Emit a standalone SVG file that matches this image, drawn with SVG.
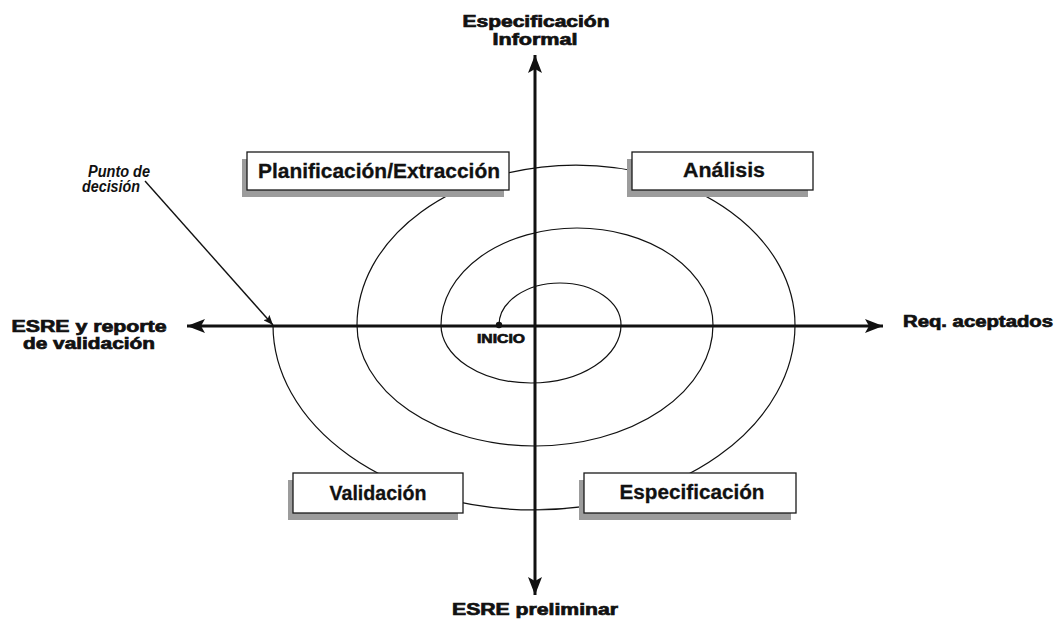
<svg xmlns="http://www.w3.org/2000/svg" width="1061" height="624" viewBox="0 0 1061 624">
  <defs>
    <style>
      .spiral { fill: none; stroke: #111; stroke-width: 1.2; }
      .axis { stroke: #111; stroke-width: 3; fill: none; }
      .pointer { stroke: #111; stroke-width: 1.4; fill: none; }
      .shadow { fill: #9c9c9c; }
      .box { fill: #fff; stroke: #1a1a1a; stroke-width: 1.3; }
      .boxText { font-family: "Liberation Sans", Arial, sans-serif; font-weight: bold; font-size: 20px; fill: #111; text-anchor: middle; stroke: #111; stroke-width: 0.3; }
      .axisText { font-family: "Liberation Sans", Arial, sans-serif; font-weight: bold; font-size: 16px; fill: #111; stroke: #111; stroke-width: 0.7; }
      .note { font-family: "Liberation Sans", Arial, sans-serif; font-weight: bold; font-style: italic; font-size: 16px; fill: #111; }
    </style>
    <marker id="axisHead" viewBox="0 0 18 14" refX="18" refY="7" markerWidth="18" markerHeight="14" markerUnits="userSpaceOnUse" orient="auto">
      <path d="M0,0 L18,7 L0,14 L4,7 z" fill="#111"/>
    </marker>
    <marker id="pointerHead" viewBox="0 0 10 8" refX="10" refY="4" markerWidth="10" markerHeight="8" markerUnits="userSpaceOnUse" orient="auto">
      <path d="M0,0 L10,4 L0,8 L2,4 z" fill="#111"/>
    </marker>
  </defs>

  <rect width="1061" height="624" fill="#fff"/>

  <g id="connectors">
    <!-- spiral of iterations, from INICIO outward to the decision point -->
    <path class="spiral" d="M499,325 A61,42 0 0 1 621,325 A90,58 0 0 1 441,325 A136,97 0 0 1 713,325 A178,121 0 0 1 357,325 A219,160 0 0 1 795,325 A261,185 0 0 1 273,325"/>
    <!-- axes -->
    <line class="axis" x1="535" y1="326" x2="883" y2="326" marker-end="url(#axisHead)"/>
    <line class="axis" x1="535" y1="326" x2="187" y2="326" marker-end="url(#axisHead)"/>
    <line class="axis" x1="535" y1="326" x2="535" y2="55" marker-end="url(#axisHead)"/>
    <line class="axis" x1="535" y1="326" x2="535" y2="595" marker-end="url(#axisHead)"/>
    <!-- decision point pointer -->
    <line class="pointer" x1="145" y1="181" x2="273" y2="325" marker-end="url(#pointerHead)"/>
  </g>

  <g id="inicio">
    <circle cx="499" cy="325" r="3.2" fill="#111"/>
    <text x="501" y="343" class="axisText" style="font-size:13px" text-anchor="middle" textLength="48" lengthAdjust="spacingAndGlyphs">INICIO</text>
  </g>

  <g id="planificacion">
    <rect class="shadow" x="242" y="159" width="262" height="38"/>
    <rect class="box" x="247" y="152" width="262" height="38"/>
    <text class="boxText" x="379" y="178" textLength="242" lengthAdjust="spacingAndGlyphs">Planificación/Extracción</text>
  </g>

  <g id="analisis">
    <rect class="shadow" x="627" y="159" width="181" height="38"/>
    <rect class="box" x="632" y="152" width="181" height="38"/>
    <text class="boxText" x="724" y="177" textLength="82" lengthAdjust="spacingAndGlyphs">Análisis</text>
  </g>

  <g id="validacion">
    <rect class="shadow" x="288" y="480" width="170" height="40"/>
    <rect class="box" x="293" y="473" width="170" height="40"/>
    <text class="boxText" x="378" y="500" textLength="97" lengthAdjust="spacingAndGlyphs">Validación</text>
  </g>

  <g id="especificacion">
    <rect class="shadow" x="579" y="480" width="212" height="40"/>
    <rect class="box" x="584" y="473" width="212" height="40"/>
    <text class="boxText" x="692" y="499" textLength="145" lengthAdjust="spacingAndGlyphs">Especificación</text>
  </g>

  <g id="label-top">
    <text class="axisText" x="536" y="27" text-anchor="middle" textLength="147" lengthAdjust="spacingAndGlyphs">Especificación</text>
    <text class="axisText" x="535" y="45" text-anchor="middle" textLength="85" lengthAdjust="spacingAndGlyphs">Informal</text>
  </g>

  <g id="label-right">
    <text class="axisText" x="903" y="327" textLength="150" lengthAdjust="spacingAndGlyphs">Req. aceptados</text>
  </g>

  <g id="label-left">
    <text class="axisText" x="89" y="332" text-anchor="middle" textLength="155" lengthAdjust="spacingAndGlyphs">ESRE y reporte</text>
    <text class="axisText" x="89" y="349" text-anchor="middle" textLength="132" lengthAdjust="spacingAndGlyphs">de validación</text>
  </g>

  <g id="label-bottom">
    <text class="axisText" x="535" y="615" text-anchor="middle" textLength="166" lengthAdjust="spacingAndGlyphs">ESRE preliminar</text>
  </g>

  <g id="decision-note">
    <text class="note" x="88" y="177" textLength="62" lengthAdjust="spacingAndGlyphs">Punto de</text>
    <text class="note" x="82" y="192" textLength="58" lengthAdjust="spacingAndGlyphs">decisión</text>
  </g>
</svg>
